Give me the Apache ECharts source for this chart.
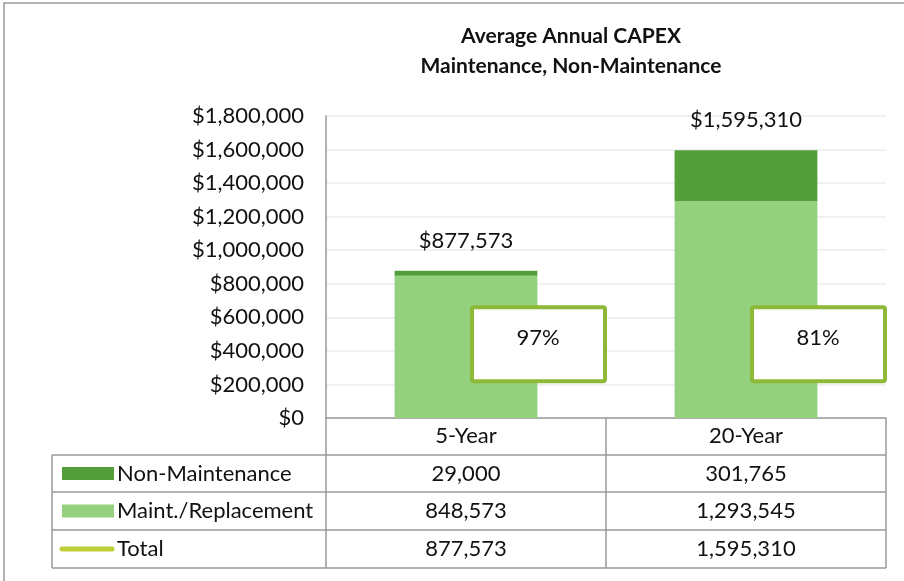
<!DOCTYPE html>
<html>
<head>
<meta charset="utf-8">
<script src="https://cdn.jsdelivr.net/npm/echarts@6/dist/echarts.min.js"></script>
<style>
  html, body { margin: 0; padding: 0; background: #fff; }
  #chart { width: 904px; height: 581px; }
</style>
</head>
<body>
<div id="chart"></div>
<script>
// data
var categories = ['5-Year', '20-Year'];
var nonMaintenance = [29000, 301765];
var maintReplacement = [848573, 1293545];
var totals = [877573, 1595310];
var seriesNames = ['Non-Maintenance', 'Maint./Replacement', 'Total'];

var colors = {
  nonMaint: '#549e3c',
  maint: '#93d17e',
  total: '#bfcf3a',
  box: '#8db838',
  grid: '#ececec',
  table: '#9a9a9a',
  text: '#111'
};
var FONT = 'Lato, "Noto Sans", sans-serif';
var FS = 22;

function fmt(v) { return v.toLocaleString('en-US'); }

var chart = echarts.init(document.getElementById('chart'));

var GRID_L = 326, GRID_R = 886, GRID_T = 116, GRID_B = 418;

chart.setOption({
  animation: false,
  textStyle: { fontFamily: FONT },
  title: {
    text: 'Average Annual CAPEX\nMaintenance, Non-Maintenance',
    left: 566,
    textAlign: 'center',
    top: 16,
    textStyle: { fontFamily: FONT, fontSize: 21, fontWeight: 'bold', lineHeight: 30, color: colors.text }
  },
  grid: { left: GRID_L, right: 904 - GRID_R, top: GRID_T, bottom: 581 - GRID_B },
  xAxis: {
    type: 'category',
    data: categories,
    axisLine: { show: true, lineStyle: { color: colors.table, width: 1.5 } },
    axisTick: { show: false },
    axisLabel: { fontSize: FS, color: colors.text, margin: 7, fontFamily: FONT }
  },
  yAxis: {
    type: 'value',
    min: 0,
    max: 1800000,
    interval: 200000,
    axisLine: { show: true, lineStyle: { color: colors.table, width: 1.5 } },
    axisTick: { show: false },
    splitLine: { lineStyle: { color: colors.grid, width: 1.5 } },
    axisLabel: {
      fontSize: FS, color: colors.text, margin: 22, fontFamily: FONT,
      formatter: function (v) { return '$' + fmt(v); }
    }
  },
  series: [
    {
      name: seriesNames[1],
      type: 'bar',
      stack: 'capex',
      barWidth: '51%',
      itemStyle: { color: colors.maint },
      data: maintReplacement
    },
    {
      name: seriesNames[0],
      type: 'bar',
      stack: 'capex',
      barWidth: '51%',
      itemStyle: { color: colors.nonMaint },
      label: {
        show: true,
        position: 'top',
        distance: 19,
        fontSize: FS,
        color: colors.text,
        fontFamily: FONT,
        formatter: function (p) { return '$' + fmt(totals[p.dataIndex]); }
      },
      data: nonMaintenance
    }
  ]
});

// percentage boxes, data table and legend keys
var g = [];
var colX = categories.map(function (c, i) {
  return chart.convertToPixel({ xAxisIndex: 0 }, i);
});
var half = (colX[1] - colX[0]) / 2;

categories.forEach(function (c, i) {
  var pct = Math.round(maintReplacement[i] / totals[i] * 100) + '%';
  var bx = colX[i] + 6, by = chart.convertToPixel({ yAxisIndex: 0 }, 660000);
  g.push({
    type: 'rect', z: 100,
    shape: { x: bx, y: by, width: 133, height: 74, r: 2 },
    style: { fill: '#fff', stroke: colors.box, lineWidth: 4 }
  });
  g.push({
    type: 'text', z: 101, x: bx + 66, y: by + 31,
    style: { text: pct, fontSize: FS, fontFamily: FONT, fill: colors.text, align: 'center', verticalAlign: 'middle' }
  });
});

var TBL_L = 52;
var rows = [455, 492, 530, 568];
function line(x1, y1, x2, y2) {
  g.push({
    type: 'line', z: 50,
    shape: { x1: x1, y1: y1, x2: x2, y2: y2 },
    style: { stroke: colors.table, lineWidth: 1.5 }
  });
}
// header row box
line(GRID_L, GRID_B, GRID_L, rows[3]);
line(GRID_R, GRID_B, GRID_R, rows[3]);
line(colX[0] + half, GRID_B, colX[0] + half, rows[3]);
line(TBL_L, rows[0], TBL_L, rows[3]);
rows.forEach(function (y) { line(TBL_L, y, GRID_R, y); });

var rowData = [nonMaintenance, maintReplacement, totals];
rowData.forEach(function (arr, r) {
  var cy = (rows[r] + rows[r + 1]) / 2;
  if (r < 2) {
    g.push({
      type: 'rect',
      shape: { x: 62, y: cy - 6.5, width: 52, height: 13 },
      style: { fill: r === 0 ? colors.nonMaint : colors.maint }
    });
  } else {
    g.push({
      type: 'line',
      shape: { x1: 62, y1: cy, x2: 112, y2: cy },
      style: { stroke: colors.total, lineWidth: 5, lineCap: 'round' }
    });
  }
  g.push({
    type: 'text', x: 117, y: cy,
    style: { text: seriesNames[r], fontSize: FS, fontFamily: FONT, fill: colors.text, verticalAlign: 'middle' }
  });
  arr.forEach(function (v, i) {
    g.push({
      type: 'text', x: colX[i], y: cy,
      style: { text: fmt(v), fontSize: FS, fontFamily: FONT, fill: colors.text, align: 'center', verticalAlign: 'middle' }
    });
  });
});

// outer chart border
g.push({
  type: 'rect',
  shape: { x: 4, y: 3, width: 1000, height: 1000 },
  style: { fill: null, stroke: '#9a9a9a', lineWidth: 1.5 }
});

chart.setOption({ graphic: g });
</script>
</body>
</html>
